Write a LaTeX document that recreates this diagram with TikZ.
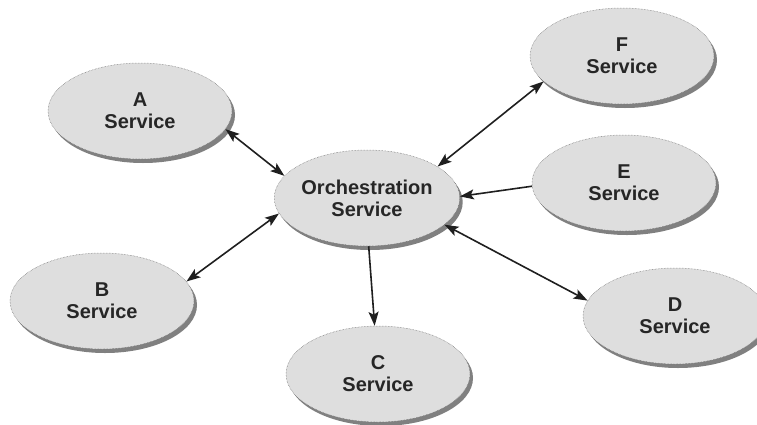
\documentclass[tikz,border=0pt]{standalone}
\usepackage{fontspec}
\setmainfont{Liberation Sans}
\usetikzlibrary{shapes.geometric,shadows,arrows.meta}

\begin{document}
\begin{tikzpicture}[x=1pt, y=-1pt, <->, line width=1.6pt,
    >={Stealth[length=14pt,width=10pt,inset=3pt]},
    every edge/.style={draw, black!88},
    service/.style={ellipse, draw=black!60, densely dotted, line width=0.5pt,
        fill=black!13, inner sep=0pt, minimum width=184pt, minimum height=96pt,
        align=center, text=black!85, font=\fontsize{20}{22}\selectfont\bfseries,
        drop shadow={shadow xshift=3pt, shadow yshift=-4pt, fill=black!50, opacity=1}}]
    \useasboundingbox (0,0) rectangle (757,424);

    \node[service] (orch) at (367,198) {Orchestration\\Service};
    \node[service] (A) at (140,111) {A\\Service};
    \node[service] (B) at (102,301) {B\\Service};
    \node[service] (C) at (378,374) {C\\Service};
    \node[service] (D) at (675,316) {D\\Service};
    \node[service] (E) at (624,183) {E\\Service};
    \node[service] (F) at (622,56) {F\\Service};

    \path (A.-12) edge (orch.165) % A
          (B.13) edge (orch.190) % B
          (F.198) edge (orch.24) % F
          (E.182) edge[->] (orch.1) % E
          (orch.-19) edge (D.170) % D
          (orch.-88) edge[->] (C.94); % C
\end{tikzpicture}
\end{document}
